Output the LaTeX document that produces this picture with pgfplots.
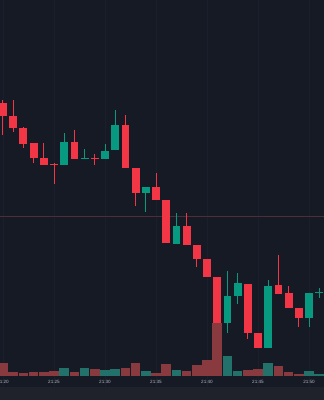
\documentclass[border=0pt]{standalone}
\usepackage{fontspec}
\setmainfont{Liberation Sans}
\usepackage{pgfplots}
\usepackage{pgfplotstable}
\pgfplotsset{compat=1.18}
\definecolor{bg}{HTML}{161A25}
\definecolor{band}{HTML}{1F222B}
\definecolor{gridc}{HTML}{1B1F2B}
\definecolor{up}{HTML}{089981}
\definecolor{down}{HTML}{F23645}
\definecolor{upv}{HTML}{22716A}
\definecolor{downv}{HTML}{883A3E}
\definecolor{pline}{HTML}{4D2E37}
\definecolor{lbl}{HTML}{B2B5BE}

\pgfplotstableread{
x o h l c
0 297 300 265 284
1 284 300 268 272
2 272 273 252 256
3 257 257 237 242
4 242 257 235 235
5 236 237 216 235
7 258 270 241 241
9 242 246 235 241
12 275 285 232 232
13 232 232 194 207
15 213 227 200 200
16 200 200 157 157
18 174 187 155 155
19 155 155 133 141
20 141 141 123 123
21 123 123 74 77
24 116 116 61 67
25 67 67 52 52
27 115 145 106 106
28 107 114 92 92
29 92 92 73 82
}\redc

\pgfplotstableread{
x o h l c
6 235 267 235 258
8 241 251 241 242
10 241 256 241 249
11 250 290 250 275
14 207 213 188 213
17 156 187 156 174
22 77 129 67 104
23 104 127 96 117
26 52 120 52 114
30 82 107 73 107
31 107 112 102 108
}\greenc

\pgfplotstableread{
x v
0 37.3
1 28.3
2 27
3 27.7
4 28.3
5 29
7 28
9 31
12 32
13 37.3
15 27
16 35.7
18 29
19 35
20 40
21 77
24 30
25 31
27 34.3
28 27.7
29 26.3
}\redv

\pgfplotstableread{
x v
6 31.7
8 31.7
10 30
11 31
14 29
17 29.7
22 44.3
23 29.3
26 37.3
30 29
31 26.3
}\greenv

\begin{document}
\begin{tikzpicture}
\begin{axis}[
  name=main,
  scale only axis, width=324pt, height=400pt,
  xmin=-0.294, xmax=31.47, ymin=0, ymax=400,
  axis background/.style={fill=bg},
  axis line style={draw=none},
  major tick length=0pt,
  ytick=\empty,
  xtick={0,5,10,15,20,25,30},
  xticklabels={21:20,21:25,21:30,21:35,21:40,21:45,21:50},
  xticklabel style={anchor=center, yshift=18pt, text=lbl, font=\fontsize{4.6}{5}\selectfont},
  xmajorgrids, grid style={gridc, line width=0.8pt},
  clip=true,
]
\fill[band] (axis cs:-1,0) rectangle (axis cs:33,13);
\addplot[pline, line width=0.7pt] coordinates {(-1,184) (33,184)};
% wicks
\addplot[down, line width=1pt, quiver={u=0, v=\thisrow{h}-\thisrow{l}}] table[x=x, y=l] {\redc};
\addplot[up, line width=1pt, quiver={u=0, v=\thisrow{h}-\thisrow{l}}] table[x=x, y=l] {\greenc};
% bodies
\addplot[down, line width=7.8pt, quiver={u=0, v=\thisrow{c}-\thisrow{o}}] table[x=x, y=o] {\redc};
\addplot[up, line width=7.8pt, quiver={u=0, v=\thisrow{c}-\thisrow{o}}] table[x=x, y=o] {\greenc};
% volume
\addplot[downv, line width=9.6pt, quiver={u=0, v=\thisrow{v}-24}] table[x=x, y expr=24] {\redv};
\addplot[upv, line width=9.6pt, quiver={u=0, v=\thisrow{v}-24}] table[x=x, y expr=24] {\greenv};
\end{axis}
\pgfresetboundingbox
\useasboundingbox (main.south west) rectangle (main.north east);
\end{tikzpicture}
\end{document}
